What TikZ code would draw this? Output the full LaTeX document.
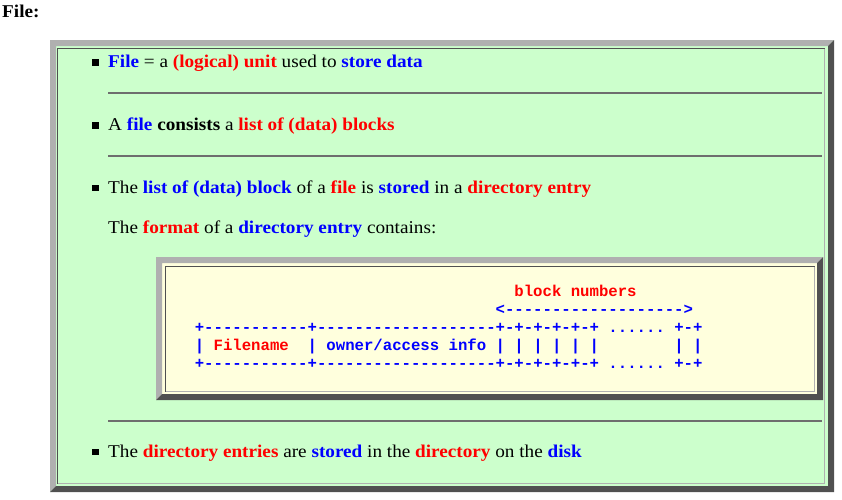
\documentclass[tikz,border=0pt]{standalone}
\usepackage{fontspec}
\setmainfont{Liberation Serif}[FakeStretch=1.067]
\setmonofont{Liberation Mono}
\usepackage{xcolor}
\usetikzlibrary{calc,positioning}
\definecolor{cellgreen}{HTML}{CCFFCC}
\definecolor{cellyellow}{HTML}{FFFFDD}
\definecolor{edgelight}{HTML}{B0B0B0}
\definecolor{edgedark}{HTML}{505050}
\definecolor{rulegray}{HTML}{6E6E6E}
\newcommand{\kwb}[1]{\textbf{\textcolor{blue}{#1}}}
\newcommand{\kwr}[1]{\textbf{\textcolor{red}{#1}}}
\tikzset{%
	txt/.style    = {anchor=base west, inner sep=0pt, font=\fontsize{18}{21}\selectfont}, % text line
	art/.style    = {anchor=base west, inner sep=0pt, text=blue, font=\ttfamily\bfseries\fontsize{15.67}{18}\selectfont}, % pre block
	bullet/.style = {fill=black, rectangle, minimum size=6.5pt, inner sep=0pt}, % list mark
	hrule/.style  = {draw=rulegray, line width=2pt}, % separator
}
\begin{document}
\begin{tikzpicture}[x=1pt,y=-1pt]
		\useasboundingbox[fill=white] (0,0) rectangle (842,499);
		% outer cell
		\fill[cellgreen] (50,40) rectangle (834,492);
		\fill[edgelight] (50,492) -- (50,40) -- (834,40) -- (828,46) -- (56,46) -- (56,486) -- cycle;
		\fill[edgedark] (834,40) -- (834,492) -- (50,492) -- (56,486) -- (828,486) -- (828,46) -- cycle;
		\draw[edgedark] (57.5,483.5) |- (824.5,48.5);
		\draw[edgelight] (824.5,48.5) |- (57.5,483.5);
		% inner cell
		\fill[cellyellow] (156,257) rectangle (823,400);
		\fill[edgelight] (156,400) -- (156,257) -- (823,257) -- (817,263) -- (162,263) -- (162,394) -- cycle;
		\fill[edgedark] (823,257) -- (823,400) -- (156,400) -- (162,394) -- (817,394) -- (817,263) -- cycle;
		\draw[edgedark] (165.5,391.5) |- (814.5,266.5);
		\draw[edgelight] (814.5,266.5) |- (165.5,391.5);
		
		\node[txt] (title) at (2,17) {\textbf{File:}};
		\node[txt] (l1) at (108,67.7) {\kwb{File} = a \kwr{(logical) unit} used to \kwb{store data}};
		\node[txt] (l2) at (108,130.7) {A \kwb{file} \textbf{consists} a \kwr{list of (data) blocks}};
		\node[txt] (l3) at (108,193) {The \kwb{list of (data) block} of a \kwr{file} is \kwb{stored} in a \kwr{directory entry}};
		\node[txt] (l4) at (108,233.3) {The \kwr{format} of a \kwb{directory entry} contains:};
		\node[txt] (l5) at (108,457.3) {The \kwr{directory entries} are \kwb{stored} in the \kwr{directory} on the \kwb{disk}};
		\foreach \l in {l1,l2,l3,l5}
			\node[bullet] (b\l) at ($(\l.base west)+(-12.5,-5.2)$) {};
		
		\coordinate (r1a) at (108,93);  \coordinate (r1b) at (822,93);
		\coordinate (r2a) at (108,156); \coordinate (r2b) at (822,156);
		\coordinate (r3a) at (108,421); \coordinate (r3b) at (822,421);
		\foreach \r in {r1,r2,r3}
			\draw[hrule] (\r a) -- (\r b);
		
		\node[art] (blk) at (514.2,296.7) {\textcolor{red}{block numbers}};
		\node[art] (arw) at (495.4,314.5) {<------------------->};
		\node[art] (row1) at (194.6,332) {+-----------+-------------------+-+-+-+-+-+~......~+-+};
		\node[art] (row2) at (194.6,350) {|~\textcolor{red}{Filename}~~|~owner/access~info~|~|~|~|~|~|~~~~~~~~|~|};
		\node[art] (row3) at (194.6,368) {+-----------+-------------------+-+-+-+-+-+~......~+-+};
		
		\end{tikzpicture}
\end{document}
